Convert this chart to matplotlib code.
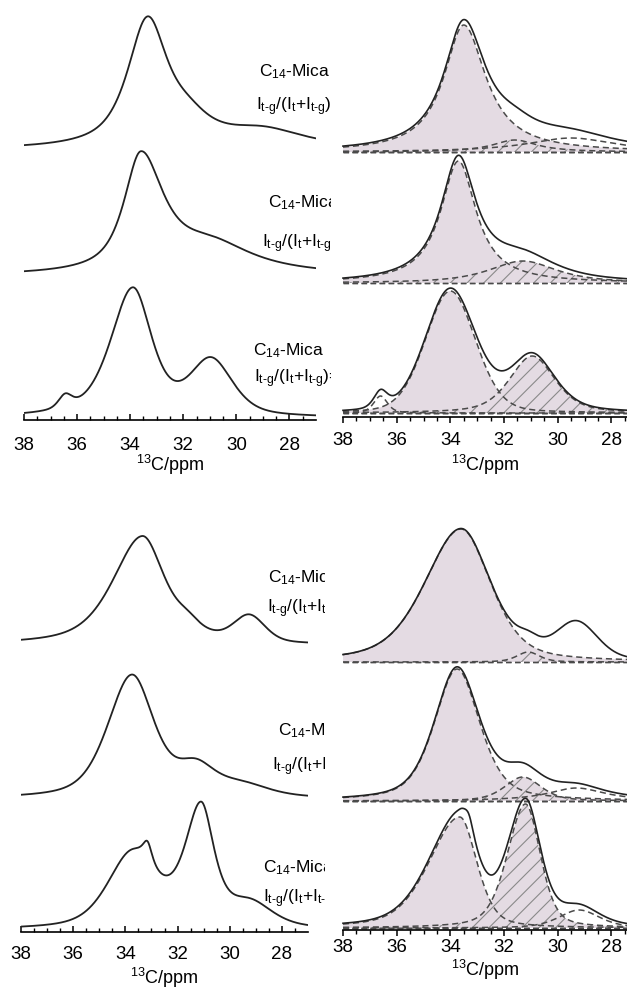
import numpy as np
import matplotlib.pyplot as plt
from matplotlib.ticker import MultipleLocator, FixedLocator

plt.rcParams['font.family'] = ['Liberation Sans', 'DejaVu Sans']
plt.rcParams['mathtext.fontset'] = 'custom'
plt.rcParams['mathtext.rm'] = 'Liberation Sans'
plt.rcParams['mathtext.it'] = 'Liberation Sans:italic'
plt.rcParams['mathtext.bf'] = 'Liberation Sans:bold'
plt.rcParams['hatch.linewidth'] = 0.8

# fitted components of each 13C spectrum, intensities in pixel units
# (centre ppm, half width on high-ppm side, half width on low-ppm side, height, lorentz fraction, kind)
# kind: 'trans' = filled, 'gauche' = hatched, 'other' = dashed only, 'extra' = only in the sum
top_left_peaks = [
    [(33.35, 0.90, 0.90, 125, 0.8, 'trans'), (31.8, 1.0, 1.0, 20, 0.8, 'gauche'), (29.0, 2.0, 2.0, 18, 1.0, 'other')],
    [(33.6, 0.75, 1.0, 114, 0.8, 'trans'), (31.0, 2.0, 2.0, 29, 1.0, 'gauche')],
    [(36.45, 0.3, 0.3, 13, 0.5, 'other'), (33.9, 1.0, 0.85, 128, 0.6, 'trans'), (30.95, 0.95, 0.95, 55, 0.5, 'gauche')],
]
top_right_peaks = [
    [(33.5, 0.9, 1.0, 127, 1.0, 'trans'), (31.6, 1.0, 1.0, 12, 1.0, 'gauche'), (29.5, 2.0, 2.0, 14, 1.0, 'other')],
    [(33.7, 0.8, 0.8, 122, 1.0, 'trans'), (31.3, 1.5, 1.5, 22, 0.8, 'gauche')],
    [(36.6, 0.3, 0.3, 17, 0.5, 'other'), (34.0, 1.1, 1.1, 122, 0.2, 'trans'), (30.95, 1.0, 1.0, 57, 0.5, 'gauche')],
]
bottom_left_peaks = [
    [(33.35, 1.35, 1.0, 107, 0.6, 'trans'), (31.6, 0.7, 0.7, 13, 1.0, 'gauche'), (29.25, 0.7, 0.7, 26, 0.3, 'other')],
    [(33.75, 1.1, 1.0, 122, 0.5, 'trans'), (31.3, 0.9, 0.9, 28, 0.6, 'gauche'), (29.5, 1.2, 1.2, 11, 0.5, 'other')],
    [(33.75, 1.1, 1.1, 72, 0.5, 'trans'), (33.15, 0.22, 0.22, 21, 0.8, 'extra'),
     (31.1, 0.75, 0.6, 119, 0.7, 'gauche'), (29.2, 1.0, 1.0, 22, 0.5, 'other')],
]
bottom_right_peaks = [
    [(33.6, 1.6, 1.3, 133, 0.45, 'trans'), (31.1, 0.5, 0.5, 10, 0.5, 'gauche'), (29.3, 0.9, 0.9, 36, 0.2, 'extra')],
    [(33.75, 1.0, 1.0, 132, 0.5, 'trans'), (31.3, 0.8, 0.8, 24, 0.5, 'gauche'), (29.3, 1.3, 1.3, 13, 1.0, 'other')],
    [(33.65, 1.35, 0.75, 111, 0.4, 'trans'), (33.3, 0.2, 0.2, 12, 0.8, 'extra'),
     (31.2, 0.8, 0.65, 124, 0.4, 'gauche'), (29.2, 0.9, 0.9, 18, 0.5, 'other')],
]
# baseline of each stacked spectrum above the axis
top_left_offsets = [270, 144, 2]
top_right_offsets = [265, 134, 4]
bottom_left_offsets = [287, 133, 2]
bottom_right_offsets = [268, 129, 2]

major_ticks = [38, 36, 34, 32, 30, 28]
minor_ticks = np.arange(27.5, 38.01, 0.5)

sample_label = 'C$_{14}$-Mica'
ratio_label = r'I$_{\mathrm{t}\text{-}\mathrm{g}}$/(I$_{\mathrm{t}}$+I$_{\mathrm{t}\text{-}\mathrm{g}}$)='
xlabel = '$^{13}$C/ppm'

W, H = 627, 999
fill_col = '#e4dbe3'
line_col = '#222222'
dash_col = '#4a4a4a'


def pvoigt(x, c, wl, wr, h, eta):
    w = np.where(x > c, wl, wr)
    r = ((x - c) / w) ** 2
    return h * (eta / (1 + r) + (1 - eta) * np.exp(-np.log(2) * r))


def add_ax(left, right, top, bottom):
    return fig.add_axes([left / W, 1 - bottom / H, (right - left) / W, (bottom - top) / H])


def style_axis(ax, xlim, height, direction, pad, label_y, bounds=None):
    ax.set_xlim(*xlim)
    ax.set_ylim(0, height)
    for s in ['top', 'left', 'right']:
        ax.spines[s].set_visible(False)
    ax.spines['bottom'].set_linewidth(1.2)
    if bounds:
        ax.spines['bottom'].set_bounds(*bounds)
    ax.set_yticks([])
    ax.xaxis.set_major_locator(FixedLocator(major_ticks))
    ax.xaxis.set_minor_locator(FixedLocator(minor_ticks))
    ax.tick_params(axis='x', which='major', direction=direction, length=4.5, width=1.1,
                   labelsize=13.5, pad=pad)
    ax.tick_params(axis='x', which='minor', direction=direction, length=2.8, width=1.0)
    ax.set_xlabel(xlabel, fontsize=13)
    ax.xaxis.label.set_va('baseline')
    lo = bounds[0] if bounds else xlim[0]
    mid = ((lo + xlim[1]) / 2 - xlim[0]) / (xlim[1] - xlim[0])
    ax.xaxis.set_label_coords(mid, label_y)
    ax.patch.set_facecolor('white')


def draw_left(ax, peaks, offsets):
    ppm = np.linspace(38, 27, 900)
    for comps, off in zip(peaks, offsets):
        total = sum(pvoigt(ppm, *c[:5]) for c in comps)
        ax.plot(ppm, off + total, color=line_col, lw=1.3)


def draw_right(ax, peaks, offsets, x_end):
    ppm = np.linspace(38, x_end, 900)
    for comps, off in zip(peaks, offsets):
        total = np.zeros_like(ppm)
        for c, wl, wr, h, eta, kind in comps:
            y = pvoigt(ppm, c, wl, wr, h, eta)
            total += y
            if kind == 'trans':
                ax.fill_between(ppm, off, off + y, facecolor=fill_col, edgecolor='none', lw=0)
            elif kind == 'gauche':
                ax.fill_between(ppm, off, off + y, facecolor=fill_col, edgecolor='#8a8a8a',
                                hatch='//', lw=0)
            if kind != 'extra':
                ax.plot(ppm, off + y, color=dash_col, lw=1.1, ls=(0, (4, 2.5)))
                ax.plot(ppm, np.full_like(ppm, off), color=dash_col, lw=1.0, ls=(0, (4, 2.5)))
        ax.plot(ppm, off + total, color=line_col, lw=1.2)


def add_labels(ax, rows):
    for (cx, cy, ix, iy) in rows:
        ax.text(cx / W, 1 - cy / H, sample_label, transform=fig.transFigure, fontsize=12.5,
                va='baseline', ha='left', clip_on=False)
        ax.text(ix / W, 1 - iy / H, ratio_label, transform=fig.transFigure, fontsize=12.5,
                va='baseline', ha='left', clip_on=False)


fig = plt.figure(figsize=(W / 100, H / 100), dpi=100)

x_right = 38 - (627 - 343) / 26.84

ax_tl = add_ax(24, 316, 0, 420)
style_axis(ax_tl, (38, 27), 420, 'in', 12, -51 / 420)
draw_left(ax_tl, top_left_peaks, top_left_offsets)
add_labels(ax_tl, [(259, 76, 256, 110), (268, 207, 262, 247), (253, 355, 254, 382)])

ax_tr = add_ax(331, 627, 0, 417)
style_axis(ax_tr, (38 + 12 / 26.84, x_right), 417, 'out', 6, -54 / 417, bounds=(38, x_right))
draw_right(ax_tr, top_right_peaks, top_right_offsets, x_right)

ax_bl = add_ax(21, 308, 480, 932)
style_axis(ax_bl, (38, 27), 452, 'in', 10, -52 / 452)
draw_left(ax_bl, bottom_left_peaks, bottom_left_offsets)
add_labels(ax_bl, [(268, 582, 267, 612), (278, 735, 272, 770), (263, 872, 263, 902)])

ax_br = add_ax(325, 627, 480, 930)
style_axis(ax_br, (38 + 18 / 26.84, x_right), 450, 'out', 2, -46 / 450, bounds=(38, x_right))
draw_right(ax_br, bottom_right_peaks, bottom_right_offsets, x_right)

for ax in (ax_tl, ax_bl):
    ax.set_zorder(1)
for ax in (ax_tr, ax_br):
    ax.set_zorder(2)

fig.savefig('out.png', dpi=100)
